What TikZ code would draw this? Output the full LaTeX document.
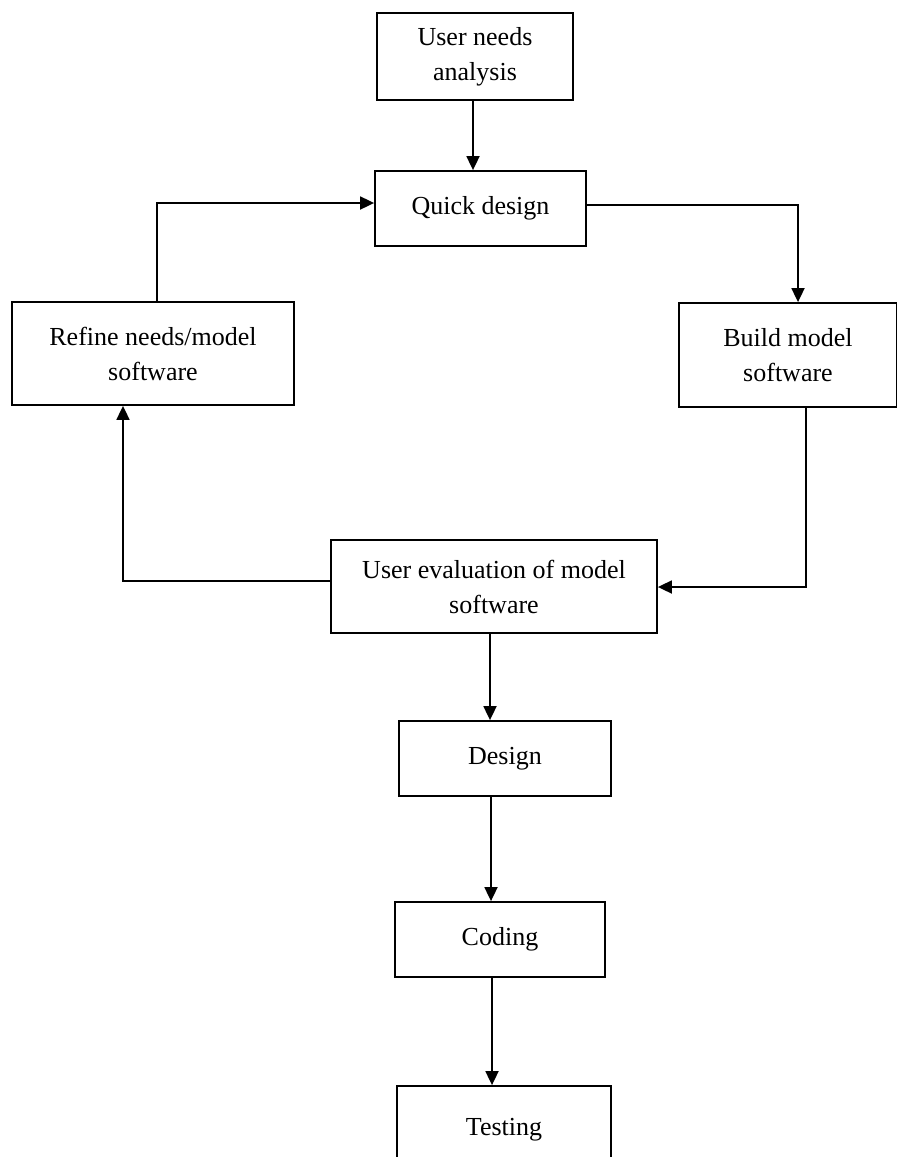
\documentclass[tikz,border=0pt]{standalone}
\usepackage{fontspec}
\setmainfont{Liberation Serif}
\usetikzlibrary{arrows.meta,calc}
\begin{document}
\begin{tikzpicture}[x=0.5pt,y=-0.5pt,
  box/.style={draw,line width=0.9pt,rectangle,inner sep=0pt,align=center,
    font=\fontsize{13}{17.5}\selectfont},
  arr/.style={line width=0.9pt,-{Triangle[length=7pt,width=6.5pt]}}]
\useasboundingbox (0,0) rectangle (897,1157);
% boxes
\node[box,minimum width=98pt,minimum height=43.5pt] (b1) at (475,56.5) {User needs\\analysis};
\node[box,minimum width=105.5pt,minimum height=37.5pt] (qd) at (480.5,208.5) {Quick design};
\node[box,minimum width=141pt,minimum height=51.5pt] (rf) at (153,353.5) {Refine needs/model\\software};
\node[box,minimum width=109pt,minimum height=52pt] (bm) at (788,355) {Build model\\software};
\node[box,minimum width=163pt,minimum height=46.5pt] (ev) at (494,586.5) {User evaluation of model\\software};
\node[box,minimum width=106pt,minimum height=37.5pt] (ds) at (505,758.5) {Design};
\node[box,minimum width=105pt,minimum height=37.5pt] (cd) at (500,939.5) {Coding};
\node[box,minimum width=107pt,minimum height=45pt] (ts) at (504,1131) {};
\node[font=\fontsize{13}{17.5}\selectfont] (tst) at (504,1130) {Testing};
% bend coordinates
\coordinate (c1) at (798,205);
\coordinate (c2) at (157,203);
\coordinate (c3) at (806,587);
\coordinate (c4) at (123,581);
% connectors
\draw[arr] (b1.south -| 473,0) -- (qd.north -| 473,0);
\draw[arr] (qd.east |- c1) -| (bm.north -| c1);
\draw[arr] (rf.north -| c2) |- (qd.west |- c2);
\draw[arr] (bm.south -| c3) |- (ev.east |- c3);
\draw[arr] (ev.west |- c4) -| (rf.south -| c4);
\draw[arr] (ev.south -| 490,0) -- (ds.north -| 490,0);
\draw[arr] (ds.south -| 491,0) -- (cd.north -| 491,0);
\draw[arr] (cd.south -| 492,0) -- (ts.north -| 492,0);
\end{tikzpicture}
\end{document}
